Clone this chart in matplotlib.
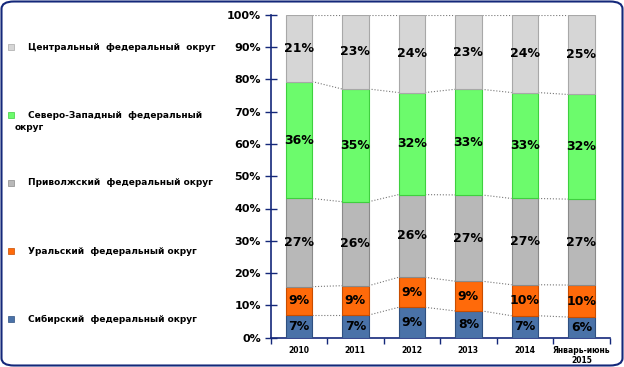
import matplotlib.pyplot as plt
import numpy as np
from matplotlib.patches import FancyBboxPatch

# data (shares of each federal district, %)
years = ["2010", "2011", "2012", "2013", "2014", "Январь-июнь\n2015"]
districts = [
    "Сибирский  федеральный округ",
    "Уральский  федеральный округ",
    "Приволжский  федеральный округ",
    "Северо-Западный  федеральный\nокруг",
    "Центральный  федеральный  округ",
]
siberian = [7.0, 7.0, 9.4, 8.3, 6.8, 6.4]
ural = [8.8, 9.1, 9.3, 9.2, 9.6, 9.9]
volga = [27.3, 26.0, 25.6, 26.7, 26.7, 26.6]
northwest = [36.2, 34.9, 31.6, 32.7, 32.8, 32.4]
central = [20.7, 23.0, 24.1, 23.1, 24.1, 24.7]

series = [siberian, ural, volga, northwest, central]
colors = ["#4a72a8", "#ff6a0a", "#b8b8b8", "#6cfb6c", "#d6d6d6"]
edges = ["#2f5080", "#c84d00", "#8a8a8a", "#3fcf3f", "#a8a8a8"]
navy = "#14287a"

fig = plt.figure(figsize=(6.24, 3.67), dpi=100)
ax = fig.add_axes([270.6 / 624, 1 - 337.7 / 367, 339 / 624, 323 / 367])

x = np.arange(len(years))
width = 0.47
bottom = np.zeros(len(years))
tops = []
for vals, c, ec in zip(series, colors, edges):
    vals = np.array(vals)
    ax.bar(x, vals, width, bottom=bottom, color=c, edgecolor=ec, linewidth=0.8, zorder=3)
    for xi, b, v in zip(x, bottom, vals):
        ax.text(xi, b + v / 2, f"{v:.0f}%", ha="center", va="center",
                fontsize=9, fontweight="bold", color="black", zorder=4)
    bottom = bottom + vals
    tops.append(bottom.copy())

# series lines between adjacent bars
for t in tops:
    for i in range(len(years) - 1):
        ax.plot([x[i] + width / 2, x[i + 1] - width / 2], [t[i], t[i + 1]],
                ls=":", color="#777777", lw=0.8, zorder=2)

ax.set_xlim(-0.5, len(years) - 0.5)
ax.set_ylim(0, 100)
ax.set_yticks(range(0, 101, 10))
ax.set_yticklabels([f"{v}%" for v in range(0, 101, 10)], fontsize=8, fontweight="bold")
ax.set_xticks(x)
ax.set_xticklabels(years, fontsize=5.5, fontweight="bold", linespacing=1.1)
ax.set_xticks(np.arange(-0.5, len(years)), minor=True)
ax.tick_params(axis="x", which="major", length=0, pad=6)
ax.tick_params(axis="x", which="minor", length=4, color=navy, width=1)
ax.tick_params(axis="y", direction="inout", length=8, color=navy, width=1, pad=3)
for s in ["top", "right"]:
    ax.spines[s].set_visible(False)
for s in ["left", "bottom"]:
    ax.spines[s].set_color(navy)
    ax.spines[s].set_linewidth(1.2)

# legend on the left, top to bottom: central ... siberian
leg_y = [47, 115, 183, 251, 319]
for lab, c, ec, yp in zip(districts[::-1], colors[::-1], edges[::-1], leg_y):
    fy = 1 - yp / 367
    fig.patches.append(plt.Rectangle((8 / 624, fy - 3 / 367), 6 / 624, 6 / 367,
                                     transform=fig.transFigure, facecolor=c,
                                     edgecolor=ec, linewidth=0.5))
    if "\n" in lab:
        first, second = lab.split("\n")
        fig.text(28 / 624, fy, first, fontsize=6.5, fontweight="bold", va="center")
        fig.text(15 / 624, fy - 12 / 367, second, fontsize=6.5, fontweight="bold", va="center")
    else:
        fig.text(28 / 624, fy, lab, fontsize=6.5, fontweight="bold", va="center")

# rounded frame
frame = FancyBboxPatch((1.5 / 624, 1.5 / 367), 621 / 624, 364 / 367,
                       boxstyle="round,pad=0,rounding_size=0.02",
                       transform=fig.transFigure, facecolor="none",
                       edgecolor=navy, linewidth=1.5)
fig.patches.append(frame)

fig.savefig("out.png", dpi=100)
